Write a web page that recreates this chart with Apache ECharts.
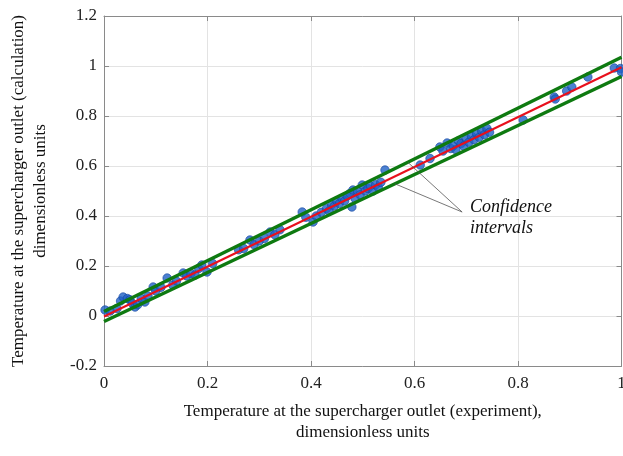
<!DOCTYPE html>
<html><head><meta charset="utf-8">
<script src="https://cdn.jsdelivr.net/npm/echarts@6/dist/echarts.min.js"></script>
<style>html,body{margin:0;padding:0;background:#fff}#c{width:623px;height:456px}</style>
</head><body><div id="c"></div>
<script>
const expX = [0.002,0.012,0.025,0.032,0.037,0.045,0.05,0.055,0.06,0.065,0.072,0.079,0.085,0.095,0.1,0.11,0.122,0.133,0.14,0.153,0.16,0.168,0.176,0.183,0.189,0.199,0.21,0.26,0.27,0.282,0.29,0.3,0.31,0.321,0.33,0.34,0.383,0.39,0.404,0.41,0.42,0.43,0.435,0.44,0.445,0.45,0.455,0.46,0.465,0.47,0.475,0.479,0.481,0.485,0.49,0.495,0.499,0.505,0.51,0.515,0.52,0.525,0.53,0.535,0.543,0.611,0.63,0.649,0.655,0.663,0.67,0.675,0.68,0.685,0.69,0.695,0.70,0.705,0.71,0.715,0.72,0.725,0.73,0.735,0.74,0.745,0.81,0.87,0.872,0.894,0.904,0.935,0.986,0.998,1.0];
const calcY = [0.024,0.02,0.03,0.06,0.076,0.07,0.065,0.05,0.036,0.045,0.07,0.056,0.08,0.116,0.1,0.115,0.152,0.124,0.14,0.172,0.16,0.17,0.164,0.19,0.204,0.176,0.21,0.265,0.27,0.304,0.285,0.3,0.31,0.336,0.325,0.345,0.416,0.395,0.376,0.4,0.415,0.43,0.42,0.445,0.44,0.46,0.45,0.47,0.46,0.48,0.49,0.436,0.504,0.47,0.5,0.485,0.524,0.5,0.51,0.52,0.5,0.525,0.515,0.535,0.584,0.604,0.63,0.676,0.66,0.692,0.67,0.68,0.665,0.7,0.69,0.68,0.71,0.695,0.72,0.705,0.73,0.715,0.74,0.725,0.75,0.735,0.784,0.876,0.868,0.9,0.916,0.956,0.992,0.99,0.976];
const fitX = [0, 1];
const fitY = [-0.002, 0.995];
const upperY = [0.018, 1.035];
const lowerY = [-0.022, 0.958];
const xTicks = [0, 0.2, 0.4, 0.6, 0.8, 1];
const yTicks = [-0.2, 0, 0.2, 0.4, 0.6, 0.8, 1, 1.2];
const noteAnchor = [0.692, 0.416];
const noteTargets = [[0.587, 0.615], [0.562, 0.529]];
const noteText = ['Confidence', 'intervals'];
const xName = 'Temperature at the supercharger outlet (experiment),\ndimensionless units';
const yName = 'Temperature at the supercharger outlet (calculation)\ndimensionless units';

const font = '"Liberation Serif","Times New Roman",serif';
const axisCol = '#8a8a8a';
const pts = expX.map((x,i)=>[x, calcY[i]]);
const line = ys => fitX.map((x,i)=>[x, ys[i]]);

const chart = echarts.init(document.getElementById('c'), null, {renderer:'canvas'});
const leaders = noteTargets.map(t => ({
  type:'line', xAxisIndex:0, yAxisIndex:0, data:[noteAnchor, t], symbol:'none',
  lineStyle:{color:'#555', width:0.8}, z:6, silent:true, animation:false
}));
chart.setOption({
  animation:false,
  grid:{left:104, right:1.5, top:16, bottom:90, containLabel:false, outerBoundsMode:'none'},
  xAxis:[{
    type:'value', min:0, max:1, interval:0.2, position:'bottom',
    axisLine:{show:true, onZero:false, lineStyle:{color:axisCol}},
    axisTick:{show:true, inside:true, length:5, lineStyle:{color:axisCol}},
    splitLine:{show:true, lineStyle:{color:'#e3e3e3'}},
    axisLabel:{color:'#222', fontFamily:font, fontSize:17, margin:9,
      formatter: v => { const t = xTicks.find(k=>Math.abs(k-v)<1e-9); return t===undefined?'':String(t); }},
    name:xName, nameLocation:'middle', nameGap:35,
    nameTextStyle:{color:'#111', fontFamily:font, fontSize:17, lineHeight:21}
  },{
    type:'value', min:0, max:1, interval:0.2, position:'top',
    axisLine:{show:true, onZero:false, lineStyle:{color:axisCol}},
    axisTick:{show:true, inside:true, length:5, lineStyle:{color:axisCol}},
    axisLabel:{show:false}, splitLine:{show:false}
  }],
  yAxis:[{
    type:'value', min:-0.2, max:1.2, interval:0.2, position:'left',
    axisLine:{show:true, onZero:false, lineStyle:{color:axisCol}},
    axisTick:{show:true, inside:true, length:5, lineStyle:{color:axisCol}},
    splitLine:{show:true, lineStyle:{color:'#e3e3e3'}},
    axisLabel:{color:'#222', fontFamily:font, fontSize:17, margin:7,
      formatter: v => { const t = yTicks.find(k=>Math.abs(k-v)<1e-9); return t===undefined?'':String(t); }},
    name:yName, nameLocation:'middle', nameGap:52, nameRotate:90,
    nameTextStyle:{color:'#111', fontFamily:font, fontSize:17, lineHeight:22}
  },{
    type:'value', min:-0.2, max:1.2, interval:0.2, position:'right',
    axisLine:{show:true, onZero:false, lineStyle:{color:axisCol}},
    axisTick:{show:true, inside:true, length:5, lineStyle:{color:axisCol}},
    axisLabel:{show:false}, splitLine:{show:false}
  }],
  series:[
    {type:'scatter', data:pts, symbolSize:8.5, itemStyle:{color:'#1f62c6', borderColor:'#1545a0', borderWidth:0.8}, z:2},
    {type:'line', data:line(upperY), symbol:'none', lineStyle:{color:'#0e7a10', width:3.5}, z:3},
    {type:'line', data:line(lowerY), symbol:'none', lineStyle:{color:'#0e7a10', width:3.5}, z:3},
    {type:'line', data:line(fitY), symbol:'none', lineStyle:{color:'#e8101c', width:2}, z:4},
    ...leaders
  ]
});
const p = chart.convertToPixel({xAxisIndex:0, yAxisIndex:0}, noteAnchor);
chart.setOption({graphic:[{
  type:'text', left:p[0]+8, top:p[1]-15,
  style:{text:noteText.join('\n'), font:'italic 18px ' + font, fill:'#111', lineHeight:21}
}]});
</script></body></html>
